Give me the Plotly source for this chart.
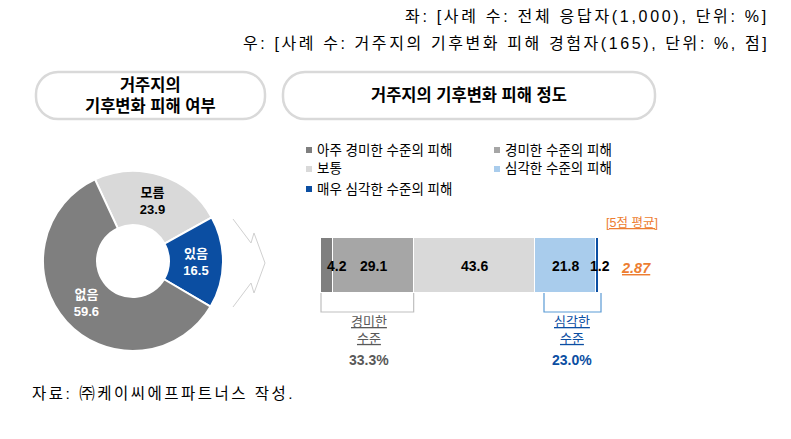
import plotly.graph_objects as go

W, H = 791, 439

# ---------------- data ----------------
header_left = "좌: [사례 수: 전체 응답자(1,000), 단위: %]"
header_right = "우: [사례 수: 거주지의 기후변화 피해 경험자(165), 단위: %, 점]"
box_title_left = "거주지의<br>기후변화 피해 여부"
box_title_right = "거주지의 기후변화 피해 정도"

pie_labels = ["모름", "있음", "없음"]
pie_values = [23.9, 16.5, 59.6]
pie_colors = ["#D9D9D9", "#0B4EA2", "#7F7F7F"]
pie_text_colors = ["#000000", "#FFFFFF", "#FFFFFF"]

bar_names = ["아주 경미한 수준의 피해", "경미한 수준의 피해", "보통",
             "심각한 수준의 피해", "매우 심각한 수준의 피해"]
bar_values = [4.2, 29.1, 43.6, 21.8, 1.2]
bar_colors = ["#7F7F7F", "#A6A6A6", "#D9D9D9", "#A9CCEC", "#0B4EA2"]
bar_category = ["피해 정도"]

mean_label = "[5점 평균]"
mean_score = 2.87
mild_label = "경미한<br>수준"
mild_pct = 33.3
severe_label = "심각한<br>수준"
severe_pct = 23.0
source_text = "자료: ㈜케이씨에프파트너스 작성."

FONT = "Liberation Sans, Arial, Noto Sans CJK KR"
ORANGE = "#ED7D31"
BLUE = "#0B4EA2"


def fx(px):
    return px / W


def fy(py):
    return 1 - py / H


def spaced(t, px):
    return f'<span style="letter-spacing:{px}px">{t}</span>'


# bar geometry (pixels)
BAR_X0, BAR_X1 = 321, 599
BAR_Y0, BAR_Y1 = 238, 293
total = sum(bar_values)


def bx(v):
    return BAR_X0 + v * (BAR_X1 - BAR_X0) / total


fig = go.Figure()

# ---------------- donut ----------------
cx, cy, R = 133, 261, 90
fig.add_trace(go.Pie(
    labels=pie_labels, values=pie_values, sort=False, direction="clockwise",
    rotation=335, hole=0.4,
    marker=dict(colors=pie_colors, line=dict(color="white", width=2)),
    texttemplate="<b>%{label}</b><br><b>%{value}</b>",
    textposition="inside", insidetextorientation="horizontal",
    textfont=dict(color=pie_text_colors, size=13, family=FONT),
    domain=dict(x=[fx(cx - R), fx(cx + R)], y=[fy(cy + R), fy(cy - R)]),
    showlegend=False, hoverinfo="label+value",
))

# ---------------- stacked bar ----------------
for name, val, col in zip(bar_names, bar_values, bar_colors):
    fig.add_trace(go.Bar(
        y=bar_category, x=[val], name=name, orientation="h",
        marker=dict(color=col, line=dict(color="white", width=1.5)),
        showlegend=False, width=1, hoverinfo="name+x",
    ))

fig.update_layout(
    barmode="stack",
    xaxis=dict(domain=[fx(BAR_X0), fx(BAR_X1)], range=[0, total], visible=False),
    yaxis=dict(domain=[fy(BAR_Y1), fy(BAR_Y0)], range=[-0.5, 0.5], visible=False),
    width=W, height=H, margin=dict(l=0, r=0, t=0, b=0),
    paper_bgcolor="white", plot_bgcolor="rgba(0,0,0,0)",
    font=dict(family=FONT, color="#000000"),
    bargap=0,
)

shapes = []
annotations = []

# bar value labels, positioned at the segment midpoints (data coords)
label_shift = [10, 0, 0, 0, 3]
cum = 0
for val, sh in zip(bar_values, label_shift):
    annotations.append(dict(x=cum + val / 2, y=0, xref="x", yref="y",
                            text=f"<b>{val:.1f}</b>", showarrow=False, xshift=sh,
                            font=dict(size=14, color="#000000")))
    cum += val


def pill(x0, y0, x1, y1, r):
    k = 0.5523 * r
    pts = [
        ("M", [(x0 + r, y0)]), ("L", [(x1 - r, y0)]),
        ("C", [(x1 - r + k, y0), (x1, y0 + r - k), (x1, y0 + r)]),
        ("L", [(x1, y1 - r)]),
        ("C", [(x1, y1 - r + k), (x1 - r + k, y1), (x1 - r, y1)]),
        ("L", [(x0 + r, y1)]),
        ("C", [(x0 + r - k, y1), (x0, y1 - r + k), (x0, y1 - r)]),
        ("L", [(x0, y0 + r)]),
        ("C", [(x0, y0 + r - k), (x0 + r - k, y0), (x0 + r, y0)]),
    ]
    s = ""
    for cmd, ps in pts:
        s += cmd + " " + " ".join(f"{fx(a):.5f},{fy(b):.5f}" for a, b in ps) + " "
    return s + "Z"


def path_px(points, close=False):
    s = "M " + " L ".join(f"{fx(a):.5f},{fy(b):.5f}" for a, b in points)
    return s + (" Z" if close else "")


# title pills
shapes.append(dict(type="path", xref="paper", yref="paper",
                   path=pill(36, 72, 265, 119, 22),
                   line=dict(color="#D9D9D9", width=2.5), fillcolor="white", layer="below"))
shapes.append(dict(type="path", xref="paper", yref="paper",
                   path=pill(283, 72, 655, 119, 22),
                   line=dict(color="#D9D9D9", width=2.5), fillcolor="white", layer="below"))

# block-arrow outline between the two panels
shapes.append(dict(type="path", xref="paper", yref="paper",
                   path=path_px([(233, 219), (251, 243), (254, 233), (265, 263),
                                 (254, 293), (251, 283), (233, 307)]),
                   line=dict(color="#D0D0D0", width=1)))

# brackets under bar
mild_end = bar_values[0] + bar_values[1]
sev_start = sum(bar_values[:3])
BR_Y = 312
shapes.append(dict(type="path", xref="paper", yref="paper",
                   path=path_px([(bx(0), BAR_Y1), (bx(0), BR_Y), (bx(mild_end), BR_Y), (bx(mild_end), BAR_Y1)]),
                   line=dict(color="#BFBFBF", width=1.2)))
shapes.append(dict(type="path", xref="paper", yref="paper",
                   path=path_px([(bx(sev_start) + 9, BAR_Y1), (bx(sev_start) + 9, BR_Y),
                                 (bx(total) + 2, BR_Y), (bx(total) + 2, BAR_Y1)]),
                   line=dict(color="#5B9BD5", width=1.2)))

# legend (custom, two columns)
leg_pos = [(309, 150), (497, 150), (309, 169), (497, 169), (309, 189)]
for (lx, ly), name, col in zip(leg_pos, bar_names, bar_colors):
    shapes.append(dict(type="rect", xref="paper", yref="paper",
                       x0=fx(lx - 3), x1=fx(lx + 3), y0=fy(ly + 3), y1=fy(ly - 3),
                       fillcolor=col, line=dict(width=0)))
    annotations.append(dict(x=fx(lx + 6), y=fy(ly), xref="paper", yref="paper",
                            text=name, showarrow=False, xanchor="left", yanchor="middle",
                            font=dict(size=13.5, color="#000000")))

# headers
annotations.append(dict(x=fx(771), y=fy(17), xref="paper", yref="paper",
                        text=spaced(header_left, 2.7),
                        showarrow=False, xanchor="right", yanchor="middle",
                        font=dict(size=16, color="#000000")))
annotations.append(dict(x=fx(771), y=fy(43), xref="paper", yref="paper",
                        text=spaced(header_right, 2.6),
                        showarrow=False, xanchor="right", yanchor="middle",
                        font=dict(size=16, color="#000000")))

# box titles
annotations.append(dict(x=fx(150), y=fy(95), xref="paper", yref="paper",
                        text=f"<b>{box_title_left}</b>", showarrow=False,
                        xanchor="center", yanchor="middle",
                        font=dict(size=16.5, color="#000000")))
annotations.append(dict(x=fx(469), y=fy(95), xref="paper", yref="paper",
                        text=f"<b>{box_title_right}</b>", showarrow=False,
                        xanchor="center", yanchor="middle",
                        font=dict(size=16.5, color="#000000")))

# mean score
annotations.append(dict(x=fx(632), y=fy(223), xref="paper", yref="paper",
                        text=f"<u>{mean_label}</u>", showarrow=False,
                        xanchor="center", yanchor="middle",
                        font=dict(size=12.5, color=ORANGE)))
annotations.append(dict(x=fx(636), y=fy(268), xref="paper", yref="paper",
                        text=f"<u><b><i>{mean_score:.2f}</i></b></u>", showarrow=False,
                        xanchor="center", yanchor="middle",
                        font=dict(size=14.5, color=ORANGE)))

# bracket labels
mild_cx = (bx(0) + bx(mild_end)) / 2 + 2
sev_cx = (bx(sev_start) + 9 + bx(total) + 2) / 2
for cxp, lab, pct, col in [(mild_cx, mild_label, mild_pct, "#595959"),
                           (sev_cx, severe_label, severe_pct, BLUE)]:
    lines = lab.split("<br>")
    annotations.append(dict(x=fx(cxp), y=fy(330), xref="paper", yref="paper",
                            text="<br>".join(f"<u>{t}</u>" for t in lines), showarrow=False,
                            xanchor="center", yanchor="middle",
                            font=dict(size=13, color=col)))
    annotations.append(dict(x=fx(cxp), y=fy(360), xref="paper", yref="paper",
                            text=f"<b>{pct:.1f}%</b>", showarrow=False,
                            xanchor="center", yanchor="middle",
                            font=dict(size=14, color=col)))

# source
annotations.append(dict(x=fx(30), y=fy(393), xref="paper", yref="paper",
                        text=spaced(source_text, 2.5),
                        showarrow=False, xanchor="left", yanchor="middle",
                        font=dict(size=15.5, color="#000000")))

fig.update_layout(shapes=shapes, annotations=annotations)
fig.write_html("out.html", config={"displayModeBar": False},
               post_script="document.body.style.margin='0px';document.body.style.overflow='hidden';")
